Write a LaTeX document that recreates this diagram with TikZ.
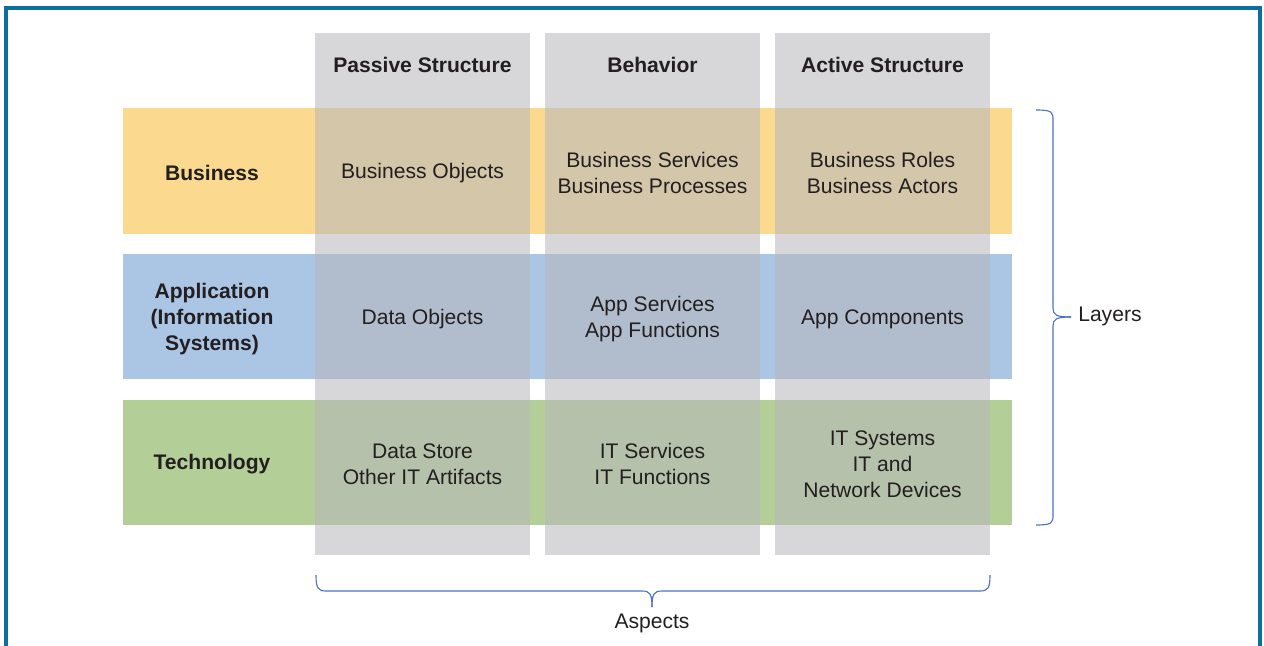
\documentclass[tikz,border=0pt]{standalone}
\usepackage{fontspec}
\setmainfont{Liberation Sans}
\usepackage{xcolor}

\definecolor{frameblue}{RGB}{12,110,160}
\definecolor{bracecol}{RGB}{74,114,192}
\definecolor{txtgray}{RGB}{35,31,32}
\definecolor{bizyellow}{RGB}{251,218,144}
\definecolor{appblue}{RGB}{171,197,229}
\definecolor{techgreen}{RGB}{180,206,152}
\definecolor{colgray}{RGB}{183,184,187}

\begin{document}
\begin{tikzpicture}[font=\fontsize{15}{18.5}\selectfont, text=txtgray,
	cell/.style={align=center, inner sep=0pt, yshift=-0.05cm},
	head/.style={cell, font=\fontsize{15}{18.5}\selectfont\bfseries},
	aspect/.style={fill=colgray, fill opacity=0.56},
	brc/.style={draw=bracecol, line width=0.8pt}]
		
		\useasboundingbox (0,0) rectangle (31.6,-16.125);
		
		% Rahmen (unten offen)
		\draw[frameblue, line width=2.2pt] (0.15,-16.4) -- (0.15,-0.2) -- (31.5,-0.2) -- (31.5,-16.4);
		
		% Schichten
		\fill[bizyellow] (3.075,-2.7) rectangle (25.3,-5.85);
		\fill[appblue] (3.075,-6.35) rectangle (25.3,-9.475);
		\fill[techgreen] (3.075,-10.0) rectangle (25.3,-13.125);
		
		% Spalten (halbtransparent darueber)
		\fill[aspect] (7.875,-0.825) rectangle (13.25,-13.875);
		\fill[aspect] (13.625,-0.825) rectangle (19.0,-13.875);
		\fill[aspect] (19.375,-0.825) rectangle (24.75,-13.875);
		
		% Spaltenkoepfe
		\node[head] (passive) at (10.5625,-1.575) {Passive Structure};
		\node[head] (behavior) at (16.3125,-1.575) {Behavior};
		\node[head] (active) at (22.0625,-1.575) {Active Structure};
		
		% Zeilenkoepfe
		\node[head] (business) at (5.3,-4.275) {Business};
		\node[head] (application) at (5.3,-7.925) {Application\\(Information\\Systems)};
		\node[head] (technology) at (5.3,-11.55) {Technology};
		
		% Business
		\node[cell] (bizobj) at (10.5625,-4.275) {Business Objects};
		\node[cell] (bizbeh) at (16.3125,-4.275) {Business Services\\Business Processes};
		\node[cell] (bizact) at (22.0625,-4.275) {Business Roles\\Business Actors};
		
		% Application
		\node[cell] (appobj) at (10.5625,-7.925) {Data Objects};
		\node[cell] (appbeh) at (16.3125,-7.925) {App Services\\App Functions};
		\node[cell] (appact) at (22.0625,-7.925) {App Components};
		
		% Technology
		\node[cell] (techobj) at (10.5625,-11.55) {Data Store\\Other IT Artifacts};
		\node[cell] (techbeh) at (16.3125,-11.55) {IT Services\\IT Functions};
		\node[cell] (techact) at (22.0625,-11.55) {IT Systems\\IT and\\Network Devices};
		
		% Klammer rechts
		\coordinate (ltop) at (25.9,-2.75);
		\coordinate (ltip) at (26.775,-7.925);
		\coordinate (lbot) at (25.9,-13.125);
		\draw[brc] (ltop) .. controls (26.3,-2.75) and (26.325,-2.8) .. (26.325,-3.0)
			-- (26.325,-7.7) .. controls (26.325,-7.87) and (26.4,-7.925) .. (ltip);
		\draw[brc] (ltip) .. controls (26.4,-7.925) and (26.325,-7.98) .. (26.325,-8.15)
			-- (26.325,-12.875) .. controls (26.325,-13.075) and (26.3,-13.125) .. (lbot);
		\node[cell, anchor=west] (layers) at (26.95,-7.85) {Layers};
		
		% Klammer unten
		\coordinate (aleft) at (7.9,-14.375);
		\coordinate (atip) at (16.3,-15.175);
		\coordinate (aright) at (24.75,-14.375);
		\draw[brc] (aleft) .. controls (7.9,-14.7) and (7.95,-14.775) .. (8.15,-14.775)
			-- (16.05,-14.775) .. controls (16.25,-14.775) and (16.3,-14.85) .. (atip);
		\draw[brc] (atip) .. controls (16.3,-14.85) and (16.35,-14.775) .. (16.55,-14.775)
			-- (24.5,-14.775) .. controls (24.7,-14.775) and (24.75,-14.7) .. (aright);
		\node[cell] (aspects) at (16.3,-15.525) {Aspects};
		
	\end{tikzpicture}
\end{document}
